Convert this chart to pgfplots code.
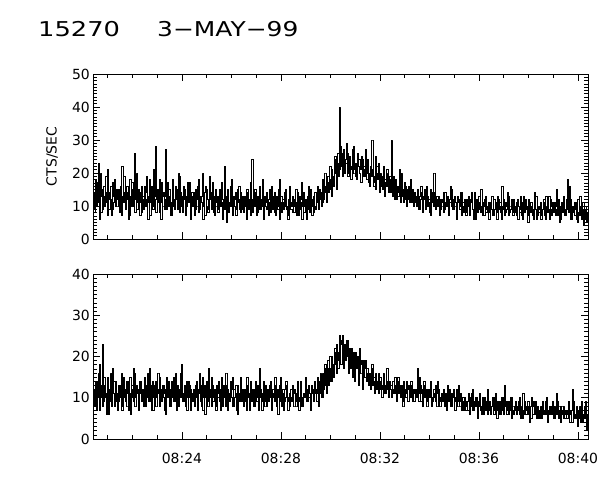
\documentclass[border=0pt]{standalone}
\usepackage{pgfplots}
\pgfplotsset{compat=1.18}
\usepackage{pgfplotstable}
\usepackage{fontspec}
\setmainfont{DejaVu Sans}
\newcommand{\mi}{\symbol{"2212}}

% PC21, bins at 20.45 + 0.05 i (minutes after 08:00)
\pgfplotstableread[row sep=\\]{y\\
14\\9\\17\\11\\23\\12\\8\\15\\13\\10\\19\\7\\14\\12\\16\\9\\11\\18\\13\\10\\
15\\8\\12\\22\\11\\14\\9\\16\\12\\7\\13\\17\\10\\26\\12\\9\\15\\11\\14\\8\\
13\\16\\10\\12\\6\\18\\11\\14\\9\\13\\28\\12\\15\\8\\11\\17\\10\\13\\27\\9\\
12\\15\\11\\7\\14\\10\\16\\12\\9\\19\\11\\13\\8\\15\\12\\10\\17\\11\\6\\13\\
10\\14\\9\\12\\16\\8\\11\\13\\20\\10\\7\\15\\12\\9\\14\\11\\17\\8\\12\\10\\
13\\9\\15\\11\\6\\12\\22\\10\\14\\8\\11\\16\\9\\13\\10\\7\\15\\12\\9\\14\\
11\\8\\13\\10\\15\\9\\12\\7\\24\\11\\10\\14\\8\\12\\16\\9\\11\\6\\13\\10\\
9\\12\\15\\8\\11\\10\\14\\7\\13\\9\\18\\11\\8\\12\\10\\15\\9\\6\\12\\11\\
10\\13\\8\\11\\7\\14\\9\\12\\17\\10\\8\\11\\6\\13\\9\\15\\10\\12\\8\\14\\
11\\16\\9\\14\\10\\18\\12\\20\\11\\17\\14\\22\\13\\19\\16\\25\\15\\23\\19\\40\\
24\\19\\27\\21\\23\\26\\20\\24\\18\\22\\28\\21\\19\\25\\22\\20\\17\\24\\21\\19\\
23\\18\\20\\16\\21\\30\\17\\19\\15\\22\\18\\14\\20\\16\\19\\13\\17\\21\\15\\18\\
14\\30\\16\\12\\18\\15\\13\\17\\11\\20\\14\\12\\16\\10\\15\\13\\18\\11\\14\\12\\
13\\10\\15\\9\\12\\14\\8\\13\\11\\16\\10\\12\\7\\14\\11\\20\\9\\12\\10\\13\\
9\\12\\11\\8\\14\\10\\13\\7\\11\\15\\9\\12\\10\\6\\13\\11\\9\\14\\10\\8\\
11\\7\\10\\13\\8\\12\\9\\6\\14\\10\\8\\11\\9\\15\\7\\10\\12\\8\\9\\11\\
8\\10\\13\\7\\9\\11\\6\\12\\10\\8\\16\\9\\7\\11\\10\\13\\8\\9\\12\\7\\
10\\8\\11\\6\\9\\13\\7\\10\\8\\12\\9\\5\\11\\8\\10\\7\\14\\9\\6\\10\\
8\\11\\7\\9\\12\\6\\10\\8\\13\\9\\7\\11\\8\\10\\15\\7\\9\\6\\11\\8\\
10\\7\\9\\18\\8\\12\\6\\10\\9\\7\\11\\5\\8\\13\\6\\9\\4\\10\\7\\5\\
}\topdata

% PC21, bins at 20.475 + 0.05 i
\pgfplotstableread[row sep=\\]{y\\
8\\18\\10\\15\\6\\20\\13\\9\\16\\11\\14\\21\\9\\12\\7\\17\\13\\10\\15\\12\\
11\\16\\7\\13\\19\\9\\14\\12\\6\\18\\10\\15\\12\\8\\20\\11\\13\\7\\16\\12\\
9\\14\\19\\11\\13\\7\\16\\10\\21\\12\\8\\15\\11\\18\\6\\13\\14\\9\\12\\17\\
10\\13\\7\\18\\12\\9\\15\\11\\20\\8\\14\\10\\16\\12\\7\\13\\11\\17\\9\\14\\
12\\7\\15\\10\\18\\9\\13\\11\\6\\14\\16\\10\\8\\19\\12\\9\\13\\7\\15\\11\\
8\\14\\10\\17\\12\\9\\13\\5\\15\\11\\10\\18\\7\\12\\14\\9\\11\\16\\8\\13\\
9\\13\\11\\6\\14\\10\\17\\12\\8\\11\\15\\7\\13\\9\\12\\10\\18\\8\\11\\14\\
12\\7\\11\\16\\9\\13\\8\\12\\10\\15\\6\\13\\11\\9\\14\\10\\7\\12\\16\\9\\
8\\12\\10\\15\\9\\7\\13\\11\\6\\14\\10\\12\\9\\16\\8\\11\\7\\13\\10\\9\\
13\\10\\15\\12\\11\\17\\14\\16\\13\\19\\15\\18\\21\\17\\20\\24\\19\\26\\21\\28\\
22\\26\\20\\24\\29\\19\\25\\22\\21\\27\\20\\23\\18\\26\\24\\21\\25\\19\\22\\27\\
20\\24\\17\\22\\19\\21\\16\\25\\18\\20\\23\\17\\19\\15\\22\\18\\16\\20\\14\\19\\
17\\13\\19\\15\\12\\16\\14\\21\\13\\15\\11\\17\\14\\12\\16\\11\\13\\15\\10\\14\\
11\\14\\9\\13\\16\\10\\12\\15\\9\\13\\11\\8\\15\\12\\10\\14\\9\\13\\11\\7\\
12\\10\\14\\9\\11\\13\\8\\12\\16\\10\\9\\13\\11\\8\\12\\10\\14\\7\\11\\12\\
8\\12\\10\\7\\11\\14\\9\\10\\6\\12\\9\\13\\8\\10\\11\\7\\13\\9\\10\\6\\
11\\9\\7\\12\\10\\8\\13\\9\\11\\6\\10\\12\\8\\9\\14\\7\\10\\11\\8\\12\\
9\\7\\12\\10\\8\\11\\6\\13\\9\\10\\7\\12\\8\\11\\9\\6\\10\\13\\7\\9\\
10\\6\\9\\11\\7\\13\\8\\9\\6\\12\\10\\8\\11\\7\\9\\12\\5\\10\\8\\13\\
7\\9\\12\\8\\16\\6\\10\\8\\11\\9\\6\\12\\7\\10\\8\\11\\6\\9\\5\\8\\
}\topdatab

% PC22, bins at 20.45 + 0.05 i
\pgfplotstableread[row sep=\\]{y\\
12\\8\\14\\10\\16\\7\\11\\23\\9\\13\\10\\15\\6\\12\\9\\17\\11\\8\\14\\10\\
9\\13\\11\\7\\15\\10\\12\\8\\14\\11\\6\\13\\9\\16\\10\\12\\7\\11\\14\\9\\
11\\15\\8\\12\\10\\17\\9\\13\\7\\11\\14\\10\\16\\8\\12\\9\\13\\11\\6\\15\\
10\\12\\8\\14\\11\\9\\16\\7\\13\\10\\12\\18\\9\\11\\8\\14\\10\\13\\7\\11\\
9\\12\\10\\14\\7\\11\\13\\8\\15\\10\\6\\12\\9\\17\\11\\8\\13\\10\\12\\7\\
11\\14\\9\\12\\8\\13\\10\\16\\7\\11\\9\\12\\15\\8\\10\\13\\6\\11\\9\\14\\
10\\8\\12\\9\\15\\11\\7\\13\\10\\12\\8\\14\\9\\11\\17\\10\\7\\12\\9\\13\\
8\\11\\10\\14\\7\\12\\9\\13\\10\\6\\11\\15\\8\\12\\9\\10\\13\\7\\11\\9\\
10\\13\\8\\11\\9\\14\\7\\12\\10\\8\\11\\15\\9\\12\\10\\7\\13\\11\\9\\12\\
11\\15\\8\\14\\10\\16\\12\\18\\11\\17\\13\\20\\14\\18\\15\\22\\16\\21\\19\\25\\
18\\25\\17\\23\\20\\24\\16\\22\\19\\15\\21\\14\\20\\17\\13\\22\\16\\12\\19\\15\\
15\\17\\13\\16\\12\\18\\14\\11\\15\\13\\16\\12\\14\\10\\15\\13\\11\\17\\12\\14\\
12\\10\\14\\11\\13\\9\\15\\12\\10\\13\\8\\12\\11\\14\\9\\12\\10\\13\\11\\9\\
12\\10\\17\\9\\13\\11\\8\\14\\10\\12\\9\\11\\13\\8\\10\\12\\9\\11\\14\\10\\
8\\11\\9\\12\\10\\7\\13\\9\\11\\8\\10\\12\\7\\11\\9\\13\\8\\10\\9\\7\\
10\\7\\9\\11\\6\\8\\12\\7\\9\\10\\5\\8\\11\\7\\9\\6\\10\\8\\12\\7\\
9\\6\\8\\10\\7\\11\\5\\8\\9\\6\\10\\7\\13\\8\\6\\9\\7\\10\\5\\8\\
7\\9\\6\\8\\10\\5\\7\\11\\6\\8\\7\\9\\4\\8\\10\\6\\7\\9\\5\\8\\
6\\8\\5\\9\\7\\6\\10\\4\\7\\8\\6\\9\\5\\7\\11\\6\\8\\4\\7\\6\\
8\\5\\7\\6\\9\\4\\7\\12\\5\\6\\8\\3\\7\\5\\9\\4\\6\\8\\2\\6\\
}\botdata

% PC22, bins at 20.475 + 0.05 i
\pgfplotstableread[row sep=\\]{y\\
9\\14\\7\\12\\18\\10\\13\\8\\15\\11\\6\\13\\10\\16\\8\\12\\14\\9\\11\\7\\
13\\10\\16\\8\\12\\9\\14\\11\\7\\15\\12\\10\\17\\8\\13\\11\\9\\14\\10\\12\\
8\\13\\11\\16\\9\\12\\7\\14\\10\\13\\8\\12\\11\\15\\9\\13\\10\\7\\12\\11\\
14\\8\\12\\10\\15\\9\\11\\13\\8\\12\\16\\10\\9\\13\\11\\7\\14\\10\\12\\9\\
11\\8\\13\\10\\12\\16\\9\\11\\7\\13\\10\\14\\8\\12\\10\\15\\9\\11\\8\\13\\
10\\12\\7\\15\\10\\11\\8\\13\\12\\9\\14\\10\\8\\12\\11\\7\\13\\10\\15\\9\\
12\\9\\11\\7\\13\\10\\14\\9\\12\\8\\11\\10\\13\\7\\12\\9\\11\\14\\8\\10\\
12\\9\\13\\8\\11\\10\\15\\8\\12\\10\\13\\9\\11\\7\\12\\14\\9\\10\\8\\12\\
9\\11\\12\\8\\13\\10\\9\\14\\8\\11\\10\\12\\9\\13\\11\\10\\12\\9\\14\\11\\
9\\13\\11\\16\\10\\15\\13\\17\\12\\19\\14\\17\\20\\15\\21\\18\\23\\17\\22\\24\\
23\\20\\22\\19\\24\\21\\20\\17\\22\\19\\18\\21\\17\\20\\16\\18\\19\\15\\17\\19\\
14\\16\\15\\12\\17\\13\\15\\16\\12\\14\\11\\15\\13\\12\\16\\11\\14\\12\\10\\13\\
13\\11\\12\\15\\10\\14\\11\\13\\12\\9\\14\\11\\10\\12\\13\\10\\14\\9\\12\\11\\
10\\13\\11\\15\\9\\12\\10\\13\\11\\8\\12\\10\\14\\9\\11\\10\\13\\8\\12\\9\\
10\\9\\12\\8\\11\\10\\9\\12\\8\\10\\11\\9\\10\\12\\8\\9\\11\\7\\10\\9\\
8\\9\\7\\10\\8\\11\\7\\9\\8\\10\\7\\9\\8\\6\\10\\8\\7\\9\\6\\8\\
7\\8\\10\\6\\8\\7\\9\\6\\8\\7\\10\\6\\8\\9\\7\\6\\8\\10\\7\\6\\
8\\6\\7\\9\\6\\8\\5\\7\\9\\6\\8\\6\\7\\5\\8\\9\\6\\7\\8\\5\\
7\\5\\8\\6\\7\\9\\5\\6\\8\\6\\7\\5\\8\\6\\9\\5\\7\\6\\8\\5\\
6\\7\\5\\8\\6\\7\\4\\9\\6\\5\\7\\6\\8\\4\\6\\7\\5\\9\\4\\6\\
}\botdatab

\pgfplotsset{
  panel/.style={
    width=495bp, height=165bp, scale only axis,
    anchor=south west,
    xmin=20.42, xmax=40.42,
    xtick={24,28,32,36,40},
    minor xtick={21,22,23,25,26,27,29,30,31,33,34,35,37,38,39},
    minor y tick num=9,
    tick align=inside,
    major tick length=7bp, minor tick length=4bp,
    axis line style={line width=0.8bp},
    every tick/.style={line width=0.7bp, black},
    tick label style={font=\fontsize{14}{14}\selectfont},
    /pgf/number format/assume math mode=true,
    clip=true,
  },
  data/.style={black, line width=0.9bp, const plot mark mid, no marks},
}

\begin{document}
\begin{tikzpicture}
\useasboundingbox (0,0) rectangle (600bp,480bp);

\node[anchor=base west, inner sep=0] at (38bp,443bp)
  {\fontsize{20.5}{20}\selectfont\scalebox{1.26}[1]{15270}};
\node[anchor=base west, inner sep=0] at (157bp,443bp)
  {\fontsize{20.5}{20}\selectfont\scalebox{1.22}[1]{3\mi MAY\mi 99}};
\node[rotate=90, inner sep=0, font=\fontsize{14}{14}\selectfont] at (52bp,323.5bp) {CTS/SEC};

\begin{axis}[panel, at={(93.3bp,241bp)},
  ymin=0, ymax=50, ytick={0,10,20,30,40,50},
  xticklabels={},
]
\addplot[data] table[x expr=20.45+\coordindex*0.05, y=y] {\topdata};
\addplot[data] table[x expr=20.475+\coordindex*0.05, y=y] {\topdatab};
\node[anchor=base east, inner sep=0, font=\fontsize{14}{14}\selectfont] at (rel axis cs:0.979,1) [yshift=4bp]
  {SXS PC21\hspace{10bp}(\hspace{14bp}3 \mi\ 15 keV)};
\end{axis}

\begin{axis}[panel, at={(93.3bp,41bp)},
  ymin=0, ymax=40, ytick={0,10,20,30,40},
  xticklabels={08:24,08:28,08:32,08:36,08:40},
  xticklabel style={yshift=-11bp},
]
\addplot[data] table[x expr=20.45+\coordindex*0.05, y=y] {\botdata};
\addplot[data] table[x expr=20.475+\coordindex*0.05, y=y] {\botdatab};
\node[anchor=base east, inner sep=0, font=\fontsize{14}{14}\selectfont] at (rel axis cs:0.979,1) [yshift=4bp]
  {SXS PC22\hspace{10bp}(\hspace{4bp}15 \mi\ 40 keV)};
\end{axis}
\end{tikzpicture}
\end{document}
